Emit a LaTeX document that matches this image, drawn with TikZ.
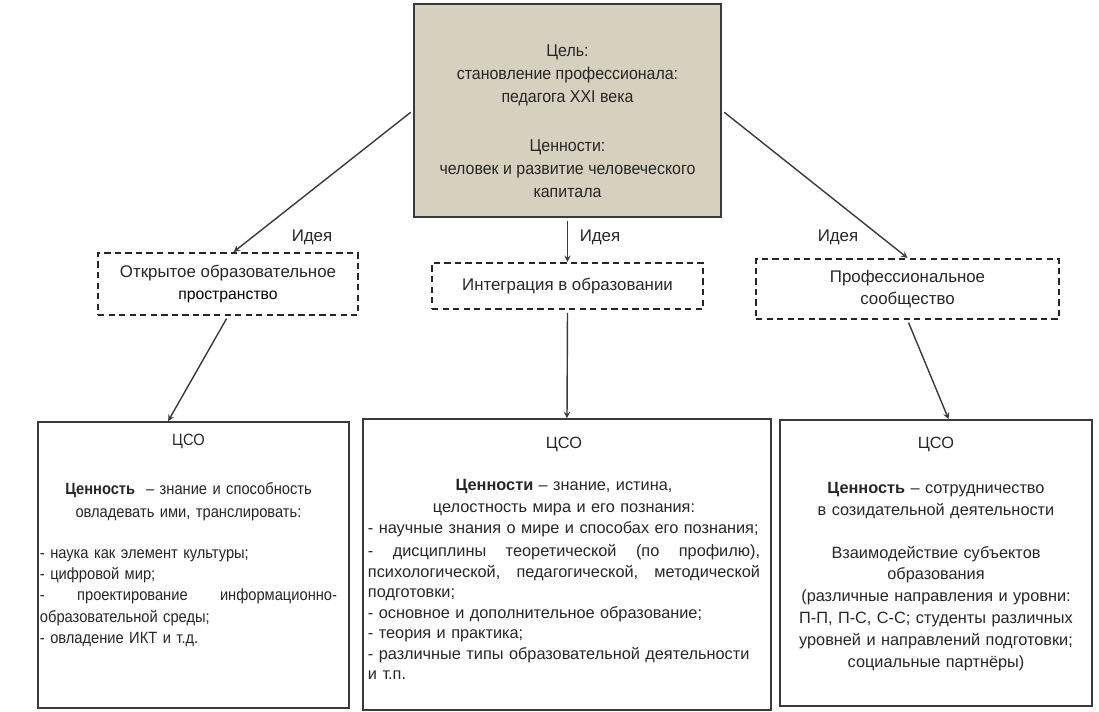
\documentclass[tikz,border=0pt]{standalone}
\usepackage{fontspec}
\setmainfont{Liberation Sans}
\newfontfamily\narrowsans{Liberation Sans}[FakeStretch=0.9]
\newfontfamily\goalsans{Liberation Sans}[FakeStretch=0.93]
\usetikzlibrary{positioning}
\definecolor{goalfill}{HTML}{D6D0BE}
\definecolor{linegray}{HTML}{3A3A3A}
\definecolor{textgray}{HTML}{262626}
\tikzset{
  goalbox/.style={draw=linegray, line width=1.4pt, fill=goalfill,
    minimum width=7.675cm, minimum height=5.325cm},
  ideabox/.style={draw=black!85, line width=1.5pt, dash pattern=on 4.5pt off 3pt,
    align=center, text=textgray, font=\fontsize{12}{15.6}\selectfont},
  csobox/.style={draw=linegray, line width=1.2pt},
  bodytext/.style={inner sep=0pt, text=textgray, font=\fontsize{11.6}{14.6}\selectfont},
  idealabel/.style={inner sep=0pt, text=textgray, font=\fontsize{12}{14}\selectfont},
  arr/.style={->, draw=linegray, line width=1pt, shorten <=2pt},
}
\begin{document}
\begin{tikzpicture}[x=0.025cm,y=-0.025cm,>=stealth]
\useasboundingbox (0,0) rectangle (1099,711);
% goal and values
\node[goalbox] (goal) at (567.5,110.5) {};
\node[bodytext, anchor=north, align=center, font=\goalsans\fontsize{12.2}{16.4}\selectfont]
  (goaltxt) at (567.5,44) {Цель:\\ становление профессионала:\\ педагога XXI века\\[18.5pt]
  Ценности:\\ человек и развитие человеческого\\ капитала};
% ideas
\node[ideabox, minimum width=6.5cm, minimum height=1.55cm] (open) at (228,284)
  {Открытое образовательное\\ {\fontsize{11.2}{15.6}\selectfont\color{black}пространство}};
\node[ideabox, minimum width=6.775cm, minimum height=1.15cm] (integr) at (567.5,286)
  {Интеграция в образовании};
\node[ideabox, minimum width=7.575cm, minimum height=1.5cm] (comm) at (907.5,289)
  {Профессиональное\\ сообщество};
\draw[arr] (goal.west) -- ([xshift=4pt]open.north);
\draw[arr] (goal.south) -- (integr.north);
\draw[arr] (goal.east) -- (comm.north);
\node[idealabel] (idea1) at (312,237) {Идея};
\node[idealabel] (idea2) at (600,237) {Идея};
\node[idealabel] (idea3) at (838,237) {Идея};
% CSO boxes
\node[csobox, minimum width=7.775cm, minimum height=7.15cm] (cso1) at (193.5,565) {};
\node[csobox, minimum width=10.2cm, minimum height=7.275cm] (cso2) at (567,564.5) {};
\node[csobox, minimum width=7.8cm, minimum height=7.15cm] (cso3) at (936,563) {};
\draw[arr] (open.south) -- (cso1.100);
\draw[arr] (integr.south) -- (cso2.north);
\draw[arr] (comm.south) -- (cso3.85);
\node[bodytext, anchor=north, text width=7.425cm, align=left,
  font=\narrowsans\fontsize{11.6}{15.1}\selectfont] (cso1txt) at (188.5,434)
  {\centering ЦСО\\[19.3pt]
  \textbf{Ценность} \ – знание и способность\\[1.5pt]
  овладевать ими, транслировать:\\[14pt]
  \par\raggedright
  - наука как элемент культуры;\\
  - цифровой мир;\\
  - \hfill проектирование \hfill информационно-\\
  образовательной среды;\\
  - овладение ИКТ и т.д.\par};
\node[bodytext, anchor=north, text width=9.8cm, align=left] (cso2txt) at (564,437)
  {\centering ЦСО\\[15.3pt]
  \textbf{Ценности} – знание, истина,\\[1pt]
  целостность мира и его познания:\par
  \raggedright
  - научные знания о мире и способах его познания;\\[2pt]
  - \hfill дисциплины \hfill теоретической \hfill (по \hfill профилю),\\
  психологической, \hfill педагогической, \hfill методической\\
  подготовки;\\
  - основное и дополнительное образование;\\
  - теория и практика;\\
  - различные типы образовательной деятельности\\
  и т.п.\par};
\node[bodytext, anchor=north, text width=7.6cm, align=center] (cso3txt) at (936,437)
  {ЦСО\\[17pt]
  \textbf{Ценность} – сотрудничество\\[1.5pt]
  в созидательной деятельности\\[16pt]
  Взаимодействие субъектов\\
  образования\\[1pt]
  (различные направления и уровни:\\[1pt]
  П-П, П-С, С-С; студенты различных\\[1pt]
  уровней и направлений подготовки;\\[1pt]
  социальные партнёры)};
\end{tikzpicture}
\end{document}
